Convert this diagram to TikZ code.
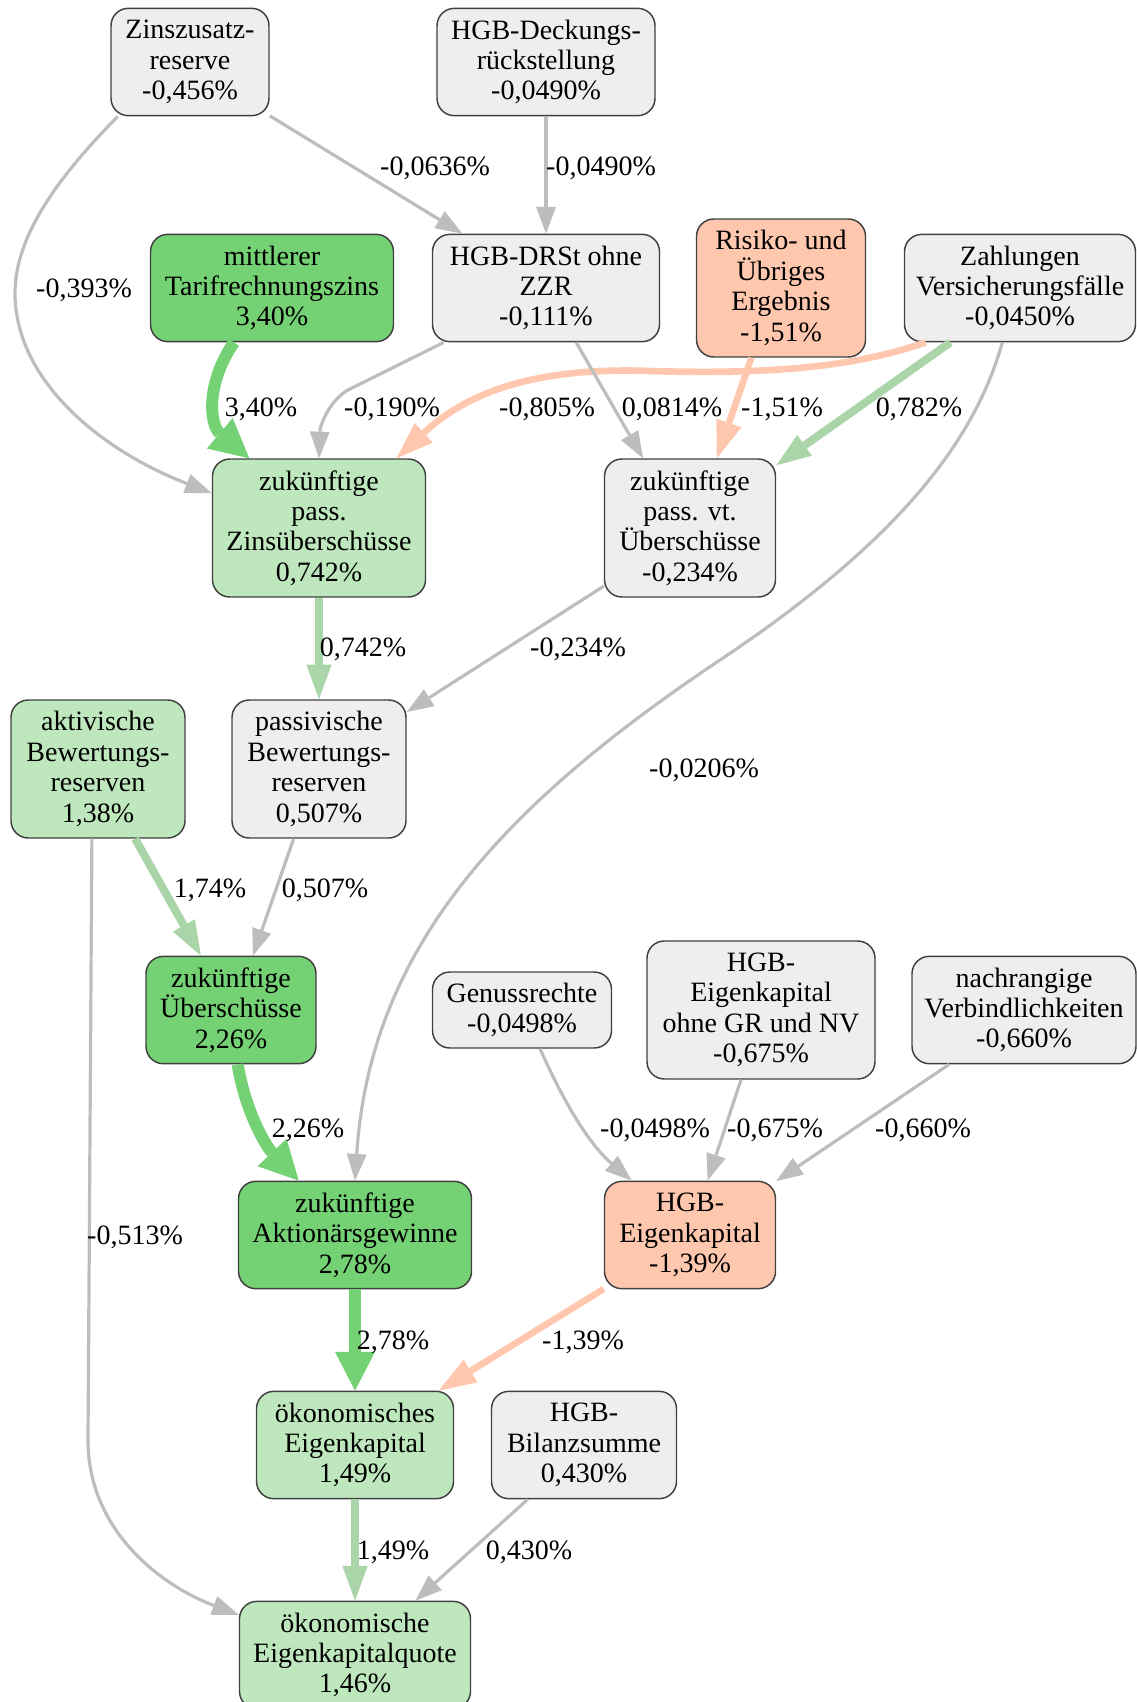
\documentclass[tikz,border=0pt]{standalone}
\usepackage{fontspec}
\setmainfont{Liberation Serif}
\usetikzlibrary{arrows.meta}
\definecolor{gfill}{HTML}{EEEEEE}
\definecolor{dgfill}{HTML}{74D174}
\definecolor{lgfill}{HTML}{BEE7BE}
\definecolor{sfill}{HTML}{FFC8AE}
\definecolor{bordercol}{HTML}{404040}
\definecolor{gline}{HTML}{BDBDBD}
\definecolor{lgline}{HTML}{A9D5A9}
\definecolor{dgline}{HTML}{74D174}
\definecolor{sline}{HTML}{FFC8AE}
\tikzset{
  box/.style={draw=bordercol, line width=1.1pt, rounded corners=13pt, align=center,
    inner sep=0pt, font=\fontsize{21pt}{22.8pt}\selectfont},
  graybox/.style={box, fill=gfill},
  dgbox/.style={box, fill=dgfill},
  lgbox/.style={box, fill=lgfill},
  sbox/.style={box, fill=sfill},
  h2/.style={minimum height=57pt},
  h3/.style={minimum height=80.5pt},
  h4/.style={minimum height=103.5pt},
  lbl/.style={font=\fontsize{21pt}{22.8pt}\selectfont, inner sep=0pt, text depth=0pt},
  gedge/.style={draw=gline, line width=2.4pt,
    -{Triangle[length=20pt,width=15pt,line width=0pt]}},
  lgedge/.style={draw=lgline, line width=6pt,
    -{Triangle[length=26pt,width=19pt,line width=0pt]}},
  dgedge/.style={draw=dgline, line width=9pt,
    -{Triangle[length=29pt,width=30pt,line width=0pt]}},
  sedge/.style={draw=sline, line width=5pt,
    -{Triangle[length=28pt,width=20pt,line width=0pt]}},
}
\begin{document}
\begin{tikzpicture}[x=0.75pt,y=-0.75pt]
\useasboundingbox (0,0) rectangle (1137,1702);
\clip (0,0) rectangle (1137,1702);
% nodes
\node[graybox,h3,minimum width=118.5pt] (zzr) at (190,62) {Zinszusatz-\\reserve\\-0,456\%};
\node[graybox,h3,minimum width=163.5pt] (drst) at (546,62) {HGB-Deckungs-\\rückstellung\\-0,0490\%};
\node[dgbox,h3,minimum width=182.25pt] (mtz) at (272,288) {mittlerer\\Tarifrechnungszins\\3,40\%};
\node[graybox,h3,minimum width=170.25pt] (drstoz) at (546,288) {HGB-DRSt ohne\\ZZR\\-0,111\%};
\node[sbox,h4,minimum width=126.75pt] (rue) at (781,288) {Risiko- und\\Übriges\\Ergebnis\\-1,51\%};
\node[graybox,h3,minimum width=173.25pt] (zvf) at (1020,288) {Zahlungen\\Versicherungsfälle\\-0,0450\%};
\node[lgbox,h4,minimum width=159.75pt] (zpz) at (319,528) {zukünftige\\pass.\\Zinsüberschüsse\\0,742\%};
\node[graybox,h4,minimum width=128.25pt] (zpvt) at (690,528) {zukünftige\\pass. vt.\\Überschüsse\\-0,234\%};
\node[lgbox,h4,minimum width=130.5pt] (abr) at (98,769) {aktivische\\Bewertungs-\\reserven\\1,38\%};
\node[graybox,h4,minimum width=130.5pt] (pbr) at (319,769) {passivische\\Bewertungs-\\reserven\\0,507\%};
\node[dgbox,h3,minimum width=127.5pt] (zu) at (231,1010) {zukünftige\\Überschüsse\\2,26\%};
\node[graybox,h2,minimum width=134.25pt] (gr) at (522,1010) {Genussrechte\\-0,0498\%};
\node[graybox,h4,minimum width=171pt] (ekogn) at (761,1010) {HGB-\\Eigenkapital\\ohne GR und NV\\-0,675\%};
\node[graybox,h3,minimum width=168pt] (nv) at (1024,1010) {nachrangige\\Verbindlichkeiten\\-0,660\%};
\node[dgbox,h3,minimum width=174.75pt] (zag) at (355,1235) {zukünftige\\Aktionärsgewinne\\2,78\%};
\node[sbox,h3,minimum width=128.25pt] (hek) at (690,1235) {HGB-\\Eigenkapital\\-1,39\%};
\node[lgbox,h3,minimum width=147.75pt] (oek) at (355,1445) {ökonomisches\\Eigenkapital\\1,49\%};
\node[graybox,h3,minimum width=138.75pt] (hbs) at (584,1445) {HGB-\\Bilanzsumme\\0,430\%};
\node[lgbox,h3,minimum width=173.25pt] (oekq) at (355,1655) {ökonomische\\Eigenkapitalquote\\1,46\%};
% edges
\draw[gedge] (zzr.217) .. controls (60,175) and (15,235) .. (15,293) .. controls (15,380) and (100,450) .. (zpz.162);
\draw[gedge] (zzr.326) -- (drstoz.147);
\draw[gedge] (drst) -- (drstoz);
\draw[dgedge] (mtz.235) .. controls (205,385) and (210,425) .. (zpz.135);
\draw[gedge] (drstoz.208) -- (348,390) .. controls (330,400) and (320,425) .. (zpz.north);
\draw[sedge] (zvf.210) .. controls (860,365) and (780,375) .. (650,371) .. controls (540,367) and (470,390) .. (zpz.42);
\draw[gedge] (drstoz.299) -- (zpvt.124);
\draw[sedge] (rue.247) -- (zpvt.69);
\draw[lgedge] (zvf.218) -- (zpvt.36);
\draw[gedge] (zvf.252) .. controls (975,440) and (900,540) .. (720,660) .. controls (500,807) and (370,950) .. (zag.north);
\draw[lgedge] (zpz) -- (pbr);
\draw[gedge] (zpvt.214) -- (pbr.33);
\draw[lgedge] (abr.298) -- (zu.119);
\draw[gedge] (pbr.250) -- (zu.68);
\draw[gedge] (abr.265) -- (88,1440) .. controls (88,1530) and (160,1585) .. (oekq.161);
\draw[dgedge] (zu.277) .. controls (245,1110) and (265,1145) .. (zag.136);
\draw[gedge] (gr.295) .. controls (565,1105) and (590,1145) .. (hek.137);
\draw[gedge] (ekogn.254) -- (hek.72);
\draw[gedge] (nv.216) -- (hek.32);
\draw[dgedge] (zag) -- (oek);
\draw[sedge] (hek.212) -- (oek.33);
\draw[lgedge] (oek) -- (oekq);
\draw[gedge] (hbs.224) -- (oekq.42);
% labels
\node[lbl] (l01) at (84,288) {-0,393\%};
\node[lbl] (l02) at (435,166) {-0,0636\%};
\node[lbl] (l03) at (601,166) {-0,0490\%};
\node[lbl] (l04) at (261,407) {3,40\%};
\node[lbl] (l05) at (392,407) {-0,190\%};
\node[lbl] (l06) at (547,407) {-0,805\%};
\node[lbl] (l07) at (672,407) {0,0814\%};
\node[lbl] (l08) at (782,407) {-1,51\%};
\node[lbl] (l09) at (919,407) {0,782\%};
\node[lbl] (l10) at (363,647) {0,742\%};
\node[lbl] (l11) at (578,647) {-0,234\%};
\node[lbl] (l12) at (704,768) {-0,0206\%};
\node[lbl] (l13) at (210,888) {1,74\%};
\node[lbl] (l14) at (325,888) {0,507\%};
\node[lbl] (l15) at (308,1128) {2,26\%};
\node[lbl] (l16) at (655,1128) {-0,0498\%};
\node[lbl] (l17) at (775,1128) {-0,675\%};
\node[lbl] (l18) at (923,1128) {-0,660\%};
\node[lbl] (l19) at (135,1235) {-0,513\%};
\node[lbl] (l20) at (393,1340) {2,78\%};
\node[lbl] (l21) at (583,1340) {-1,39\%};
\node[lbl] (l22) at (393,1550) {1,49\%};
\node[lbl] (l23) at (529,1550) {0,430\%};
\end{tikzpicture}
\end{document}
